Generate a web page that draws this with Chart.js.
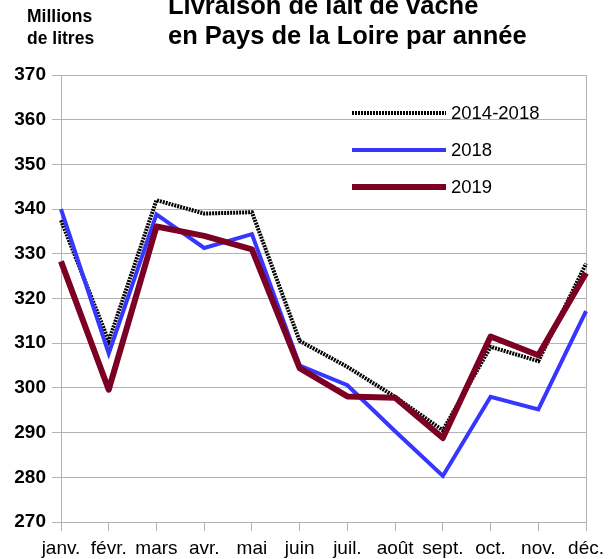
<!DOCTYPE html>
<html>
<head>
<meta charset="utf-8">
<script src="https://cdn.jsdelivr.net/npm/chart.js@4"></script>
<style>
  html, body { margin: 0; padding: 0; background: #fff; }
  #wrap { width: 610px; height: 559px; position: relative; }
</style>
</head>
<body>
<div id="wrap"><canvas id="chart"></canvas></div>
<script>
// Monthly cow milk deliveries, millions of litres
const months = ['janv.', 'févr.', 'mars', 'avr.', 'mai', 'juin', 'juil.', 'août', 'sept.', 'oct.', 'nov.', 'déc.'];
const avg2014to2018 = [337.5, 310.5, 342, 339, 339.3, 310.5, 304.7, 298, 290.5, 309.2, 306, 327.8];
const values2018 = [340, 307.7, 338.8, 331.3, 334.4, 305, 300.6, 290.3, 280.3, 298, 295.2, 317.2];
const values2019 = [328.3, 299.6, 336.1, 334, 331, 304.4, 298.1, 297.8, 288.8, 311.5, 307.3, 325.7];
const yTicks = { min: 270, max: 370, step: 10 };

const GRID = '#b3b3b3';
const FONT = '"Liberation Sans", Arial, sans-serif';

// Titles and the in-plot legend
const decorPlugin = {
  id: 'decor',
  afterDraw(chart) {
    const ctx = chart.ctx;
    ctx.save();
    ctx.fillStyle = '#000';
    ctx.textAlign = 'left';
    ctx.textBaseline = 'alphabetic';

    ctx.font = 'bold 17.5px ' + FONT;
    ctx.fillText('Millions', 27, 22);
    ctx.fillText('de litres', 27, 44);

    ctx.font = 'bold 25.5px ' + FONT;
    ctx.fillText('Livraison de lait de vache', 168, 14);
    ctx.fillText('en Pays de la Loire par année', 168, 44);

    // legend, listed top to bottom
    const rows = [2, 1, 0];
    const ys = [113, 150, 187];
    rows.forEach((di, i) => {
      const ds = chart.data.datasets[di];
      ctx.beginPath();
      ctx.strokeStyle = ds.borderColor;
      ctx.lineWidth = ds.borderWidth;
      ctx.setLineDash(ds.borderDash || []);
      ctx.moveTo(352, ys[i]);
      ctx.lineTo(446, ys[i]);
      ctx.stroke();
      ctx.setLineDash([]);
      ctx.font = '18.5px ' + FONT;
      ctx.textBaseline = 'middle';
      ctx.fillStyle = '#000';
      ctx.fillText(ds.label, 451, ys[i] + 1);
    });
    ctx.restore();
  }
};

new Chart(document.getElementById('chart'), {
  type: 'line',
  data: {
    labels: months,
    datasets: [
      {
        label: '2019',
        data: values2019,
        borderColor: '#7b0024',
        borderWidth: 6,
        borderJoinStyle: 'round',
        order: 0
      },
      {
        label: '2018',
        data: values2018,
        borderColor: '#3636ff',
        borderWidth: 4,
        order: 1
      },
      {
        label: '2014-2018',
        data: avg2014to2018,
        borderColor: '#000',
        borderWidth: 4,
        borderDash: [2, 1],
        borderCapStyle: 'butt',
        order: 2
      }
    ]
  },
  options: {
    responsive: true,
    maintainAspectRatio: false,
    animation: false,
    elements: { point: { radius: 0 }, line: { tension: 0 } },
    layout: { padding: { top: 75, right: 20, left: 0, bottom: 0 } },
    plugins: {
      legend: { display: false },
      tooltip: { enabled: false },
      title: { display: false }
    },
    scales: {
      x: {
        offset: false,
        afterFit(scale) { scale.height = 37; },
        grid: {
          drawOnChartArea: true,
          color: c => (c.index === months.length - 1 ? GRID : 'rgba(0,0,0,0)'),
          tickColor: GRID,
          tickLength: 9
        },
        border: { color: GRID },
        ticks: {
          color: '#000',
          font: { family: FONT, size: 19 },
          padding: 6,
          maxRotation: 0,
          autoSkip: false
        }
      },
      y: {
        min: yTicks.min,
        max: yTicks.max,
        afterFit(scale) { scale.width = 61; },
        grid: { color: GRID, tickLength: 9 },
        border: { color: GRID },
        ticks: {
          stepSize: yTicks.step,
          color: '#000',
          font: { family: FONT, size: 19, weight: 'bold' },
          padding: 6
        }
      }
    }
  },
  plugins: [decorPlugin]
});
</script>
</body>
</html>
